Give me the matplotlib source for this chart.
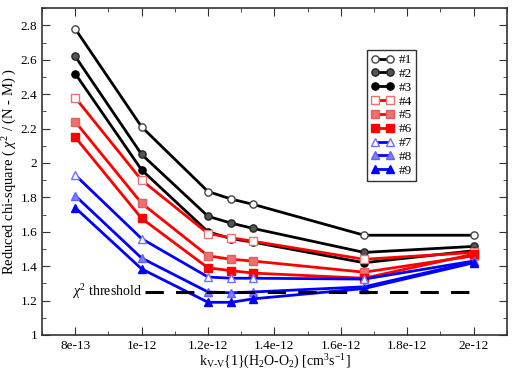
import numpy as np
import matplotlib
matplotlib.use('Agg')
import matplotlib.pyplot as plt
from matplotlib.ticker import MultipleLocator, FixedLocator

plt.rcParams['font.family'] = ['Liberation Serif', 'DejaVu Serif']
plt.rcParams['mathtext.fontset'] = 'custom'
plt.rcParams['mathtext.rm'] = 'Liberation Serif'
plt.rcParams['mathtext.it'] = 'Liberation Serif:italic'

# k_VV values (x) for each run
k_vv = [8e-13, 1e-12, 1.2e-12, 1.27e-12, 1.335e-12, 1.67e-12, 2e-12]

# reduced chi-square for each case
s1 = [2.78, 2.21, 1.834, 1.79, 1.76, 1.58, 1.58]
s2 = [2.62, 2.05, 1.69, 1.65, 1.62, 1.48, 1.515]
s3 = [2.52, 1.96, 1.60, 1.56, 1.54, 1.42, 1.49]
s4 = [2.38, 1.90, 1.59, 1.565, 1.545, 1.44, 1.48]
s5 = [2.24, 1.766, 1.46, 1.44, 1.43, 1.365, 1.46]
s6 = [2.15, 1.678, 1.39, 1.374, 1.36, 1.33, 1.47]
s7 = [1.93, 1.56, 1.337, 1.33, 1.33, 1.325, 1.43]
s8 = [1.81, 1.447, 1.25, 1.245, 1.25, 1.28, 1.425]
s9 = [1.74, 1.384, 1.19, 1.19, 1.21, 1.27, 1.42]
labels = ['#1', '#2', '#3', '#4', '#5', '#6', '#7', '#8', '#9']

threshold = 1.25
thr_x = [1.01e-12, 2.02e-12]

series = [s1, s2, s3, s4, s5, s6, s7, s8, s9]
styles = [
    dict(color='black', marker='o', mfc='white', mec='#444444'),
    dict(color='black', marker='o', mfc='#555555', mec='#222222'),
    dict(color='black', marker='o', mfc='black', mec='black'),
    dict(color='#ff0000', marker='s', mfc='white', mec='#f07070'),
    dict(color='#ff0000', marker='s', mfc='#f07070', mec='#e06060'),
    dict(color='#ff0000', marker='s', mfc='#ff0000', mec='#ff0000'),
    dict(color='#0000ff', marker='^', mfc='white', mec='#7070ff'),
    dict(color='#0000ff', marker='^', mfc='#8080ff', mec='#6060ff'),
    dict(color='#0000ff', marker='^', mfc='#0000ff', mec='#0000ff'),
]

fig = plt.figure(figsize=(5.12, 3.72), dpi=100)
ax = fig.add_axes([0.082, 0.0995, 0.908, 0.8785])

for y, lab, st in zip(series, labels, styles):
    ax.plot(k_vv, y, lw=2, ms=5.2, mew=1, label=lab, **st)

ax.plot(thr_x, [threshold, threshold], color='black', lw=2.2, dashes=(6, 4))
ax.text(0.79e-12, threshold, r'$\chi^2$ threshold', fontsize=10, va='center', ha='left')

ax.set_xlim(0.7e-12, 2.1e-12)
ax.set_ylim(1, 2.9)
ax.xaxis.set_major_locator(FixedLocator([8e-13, 1e-12, 1.2e-12, 1.4e-12, 1.6e-12, 1.8e-12, 2e-12]))
ax.set_xticklabels(['8e-13', '1e-12', '1.2e-12', '1.4e-12', '1.6e-12', '1.8e-12', '2e-12'])
ax.xaxis.set_minor_locator(MultipleLocator(1e-13))
ax.set_yticks([1, 1.2, 1.4, 1.6, 1.8, 2, 2.2, 2.4, 2.6, 2.8])
ax.set_yticklabels(['1', '1.2', '1.4', '1.6', '1.8', '2', '2.2', '2.4', '2.6', '2.8'])
ax.yaxis.set_minor_locator(MultipleLocator(0.1))
ax.tick_params(which='both', direction='in', top=True, right=True, labelsize=9.5, color='#333333')
ax.tick_params(which='major', length=6)
ax.tick_params(which='minor', length=3)
for sp in ax.spines.values():
    sp.set_linewidth(1.2)
    sp.set_color('#333333')

ax.set_xlabel('k$_{\\mathrm{V\u2010V}}${1}(H$_2$O-O$_2$) [cm$^3$s$^{-1}$]', fontsize=10, labelpad=1)
ax.set_ylabel(r'Reduced chi-square ( $\chi^2$ / (N - M) )', fontsize=10.5, labelpad=1)

leg = ax.legend(loc='upper left', bbox_to_anchor=(0.70, 0.872), numpoints=2, fontsize=9.5,
                handlelength=1.7, handletextpad=0.4, labelspacing=0.12, borderpad=0.3,
                fancybox=False, framealpha=1, borderaxespad=0)
leg.get_frame().set_edgecolor('#333333')
leg.get_frame().set_linewidth(1.0)

fig.savefig('out.png', dpi=100)
